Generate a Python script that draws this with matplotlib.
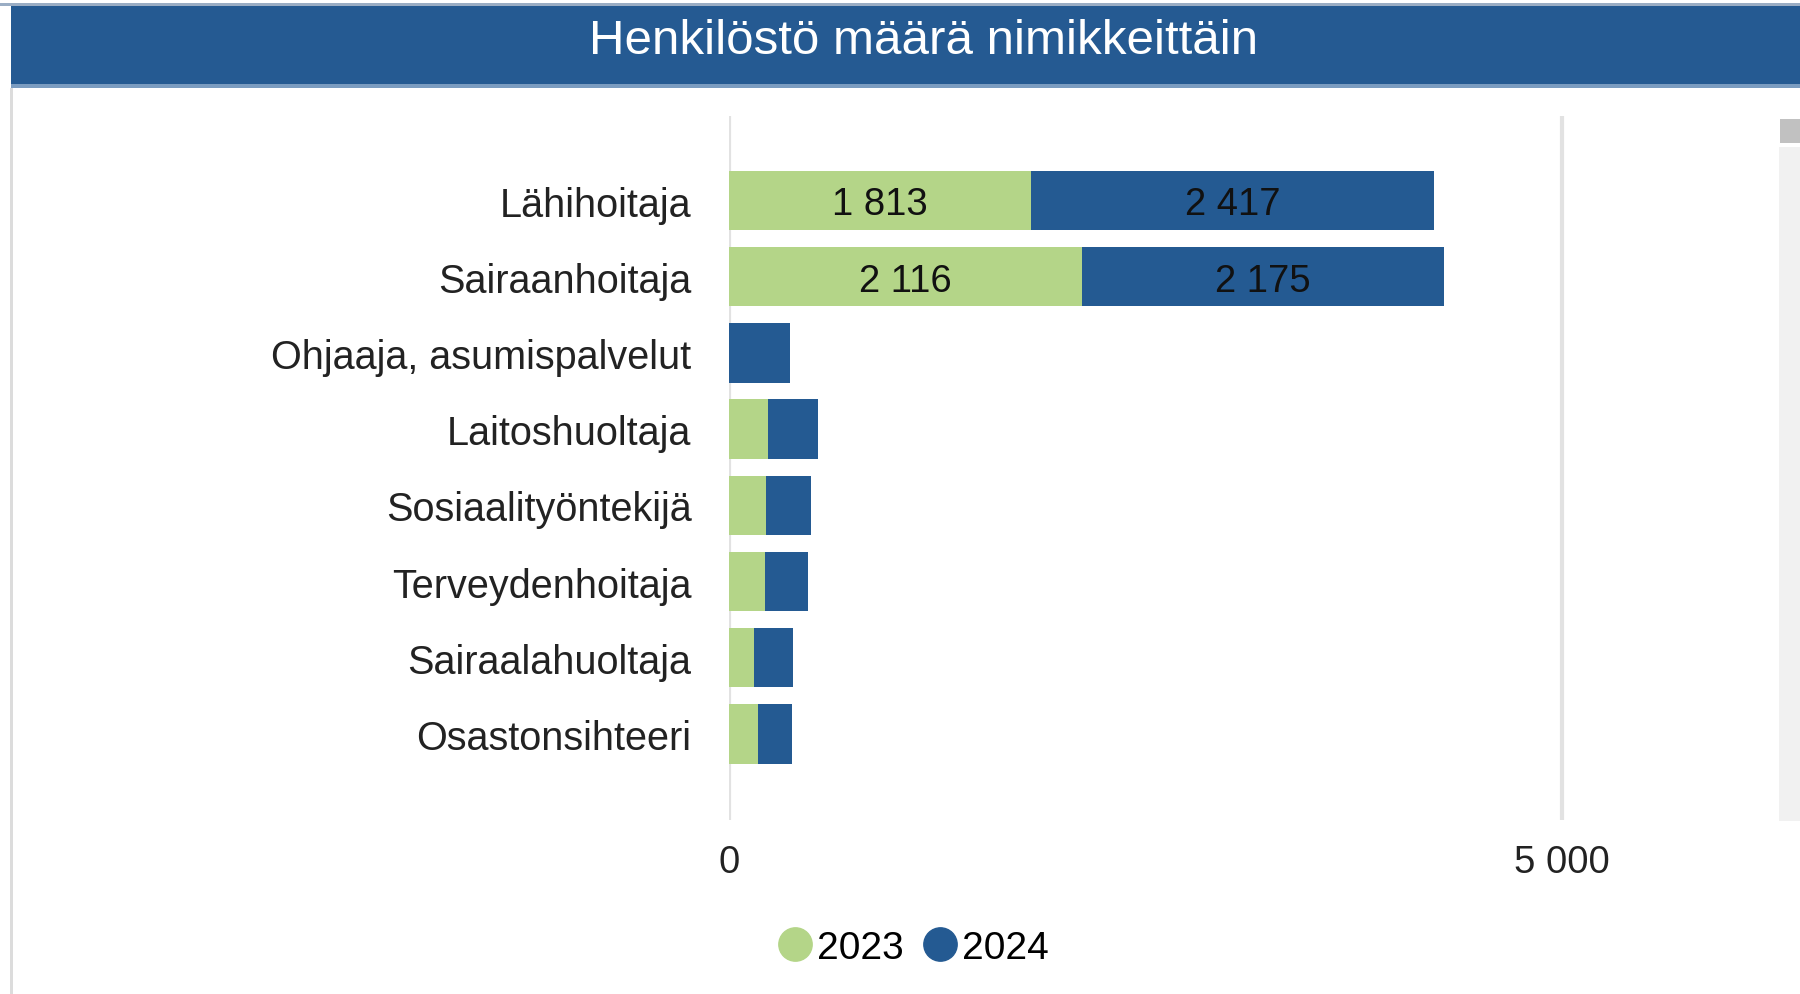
import matplotlib
matplotlib.use("Agg")
import matplotlib.pyplot as plt
from matplotlib.patches import Rectangle
from matplotlib.lines import Line2D

# Staff counts per job title
titles = [
    "Lähihoitaja",
    "Sairaanhoitaja",
    "Ohjaaja, asumispalvelut",
    "Laitoshuoltaja",
    "Sosiaalityöntekijä",
    "Terveydenhoitaja",
    "Sairaalahuoltaja",
    "Osastonsihteeri",
]
values_2023 = [1813, 2116, 0, 235, 223, 215, 150, 175]
values_2024 = [2417, 2175, 365, 300, 268, 262, 235, 205]
series_names = ["2023", "2024"]
x_ticks = [0, 5000]
x_tick_labels = ["0", "5 000"]

GREEN = "#b4d588"
BLUE = "#245a92"
FONT = "Liberation Sans"

W, H = 1800, 995
fig = plt.figure(figsize=(W / 100, H / 100), dpi=100)
fig.patch.set_facecolor("white")


def fx(px):
    return px / W


def fy(py):
    return 1 - py / H


# Header band
fig.add_artist(Rectangle((fx(0), fy(7)), 1, fy(4) - fy(7), transform=fig.transFigure,
                         color="#9aadc4", lw=0))
fig.add_artist(Rectangle((fx(11), fy(85)), 1, fy(7) - fy(85), transform=fig.transFigure,
                         color="#255a92", lw=0))
fig.add_artist(Rectangle((fx(11), fy(89)), 1, fy(85) - fy(89), transform=fig.transFigure,
                         color="#7b9cc0", lw=0))
fig.text(fx(924), fy(42), "Henkilöstö määrä nimikkeittäin", color="white",
         fontsize=35.5, family=FONT, ha="center", va="center")

# Panel border on the left
fig.add_artist(Rectangle((fx(10), 0), fx(3), fy(89), transform=fig.transFigure,
                         color="#dcdcdc", lw=0))

# Scrollbar
fig.add_artist(Rectangle((fx(1779), fy(822)), fx(21), fy(148) - fy(822),
                         transform=fig.transFigure, color="#f1f1f1", lw=0))
fig.add_artist(Rectangle((fx(1780), fy(144)), fx(20), fy(120) - fy(144),
                         transform=fig.transFigure, color="#c1c1c1", lw=0))

# Plot area: 0 at x=729, 5000 at x=1562
x0_px, x5000_px = 729, 1562
px_per_unit = (x5000_px - x0_px) / 5000
ax_left, ax_right = x0_px, 1729
ax = fig.add_axes([fx(ax_left), fy(821), fx(ax_right - ax_left), fy(117) - fy(821)])
ax.set_xlim(0, (ax_right - ax_left) / px_per_unit)
ax.set_ylim(8.13, -1.11)
ax.set_facecolor("none")
for s in ax.spines.values():
    s.set_visible(False)

for t in x_ticks:
    ax.axvline(t, color="#e2e2e2", lw=3, zorder=0)

y = list(range(len(titles)))
bar_h = 0.78
b1 = ax.barh(y, values_2023, height=bar_h, color=GREEN, zorder=2, label=series_names[0])
b2 = ax.barh(y, values_2024, left=values_2023, height=bar_h, color=BLUE, zorder=2,
             label=series_names[1])


def fmt(v):
    return f"{v:,}".replace(",", " ") if v >= 1000 else ""


# Value labels inside the two large bars
for yi, a, b in zip(y, values_2023, values_2024):
    if a >= 1000:
        ax.text(a / 2, yi + 0.05, fmt(a), ha="center", va="center", fontsize=27.5,
                family=FONT, color="#111111", zorder=3)
    if b >= 1000:
        ax.text(a + b / 2, yi + 0.05, fmt(b), ha="center", va="center", fontsize=27.5,
                family=FONT, color="#111111", zorder=3)

ax.set_yticks(y)
ax.set_yticklabels(titles, fontsize=28.5, family=FONT, color="#222222")
ax.set_xticks(x_ticks)
ax.set_xticklabels(x_tick_labels, fontsize=27.5, family=FONT, color="#222222")
ax.tick_params(axis="y", length=0, pad=27)
ax.tick_params(axis="x", length=0, pad=17)

# Legend
handles = [
    Line2D([], [], marker="o", ls="none", markersize=24, markerfacecolor=GREEN,
           markeredgecolor=GREEN),
    Line2D([], [], marker="o", ls="none", markersize=24, markerfacecolor=BLUE,
           markeredgecolor=BLUE),
]
fig.legend(handles, series_names, loc="center", bbox_to_anchor=(fx(913), fy(949)),
           ncol=2, frameon=False, prop={"family": FONT, "size": 28},
           handlelength=0.9, handletextpad=0.1, columnspacing=0.5, borderpad=0)

fig.savefig("out.png", dpi=100)
